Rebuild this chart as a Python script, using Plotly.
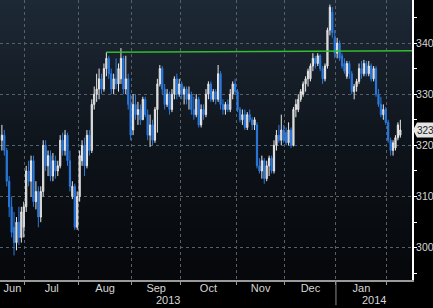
import plotly.graph_objects as go
import pandas as pd

# ---------------- data ----------------
holidays = ["2013-07-04", "2013-09-02", "2013-11-28", "2013-12-25", "2014-01-01", "2014-01-20"]
dates = [d for d in pd.bdate_range("2013-06-17", "2014-02-10") if d.strftime("%Y-%m-%d") not in holidays]

opens = [321, 322, 319, 313, 308, 304, 301, 305, 302, 304,
         308, 315, 313, 317, 309, 311, 306, 311, 320, 316,
         318, 314, 317, 315, 316, 321, 319, 322, 317, 310,
         312, 304, 310, 317, 320, 316, 322, 319, 328, 330,
         331, 333, 331, 335, 337, 334, 331, 333, 332, 333,
         337, 331, 333, 328, 323, 328, 326, 327, 325, 329,
         326, 322, 324, 321, 327, 332, 335, 331, 328, 330,
         327, 330, 333, 330, 332, 330, 331, 329, 330, 327,
         326, 329, 324, 327, 326, 330, 332, 329, 330.5, 329,
         334, 328, 327, 328, 327, 330, 332, 330.5, 327, 325,
         326, 323.5, 326, 325, 324, 324, 316, 315, 317, 313.5,
         316, 317.5, 315, 320, 322, 321, 323, 322.5, 320.5, 323,
         320, 327, 327, 329, 330, 332, 333, 333, 335.5, 337,
         336, 337.5, 335, 333, 335.5, 342.5, 346, 341, 338, 340,
         337.5, 336, 333.5, 336, 334, 330.5, 331.5, 332.5, 335, 334,
         336, 334, 335.5, 333, 335, 330, 328, 326, 327, 324.5,
         321, 319, 319.5, 321.5, 322]
highs = [324, 323, 319.5, 314, 310, 307, 306, 308, 308, 309,
         316, 317, 318, 318, 313, 312, 312, 321, 321, 319,
         319, 318.5, 318, 317, 322, 322.5, 323, 322.5, 319, 313,
         312.5, 311, 319, 321, 321.5, 323, 323, 329, 331.5, 334,
         335, 334, 336, 338.2, 337.5, 335, 334, 337, 336, 339,
         337.5, 337.5, 334, 330, 330, 330, 328.5, 328, 329.5, 329.5,
         327, 326, 325, 327.5, 333, 335.7, 335.5, 332, 331, 330.5,
         331, 333.5, 334, 333, 332.5, 331.5, 331.5, 331.5, 330.5, 329.5,
         330, 329.5, 328, 328, 331, 332.5, 332.5, 331, 331, 335.7,
         334.5, 329, 328.5, 329, 331, 332.5, 333, 331, 327.5, 327,
         327, 326.5, 327, 325.5, 325.5, 324.5, 317.5, 318, 317.5, 317,
         318, 318, 321, 323, 324, 326, 324, 323.5, 324.5, 323.5,
         327.5, 329, 330, 331, 332.5, 333.5, 335, 336, 338, 337.5,
         338, 337.8, 335.5, 336, 343, 347.5, 347, 342.5, 341, 340.5,
         338, 337, 336.5, 336.5, 334.5, 332, 333, 336, 336.5, 336.7,
         336.5, 336.5, 336, 335.5, 335.5, 331, 329.5, 328, 327.5, 325,
         321.5, 321, 322, 324.5, 325]
lows = [319, 318, 312, 306, 302, 298.5, 299.5, 300.5, 301, 302,
        307, 312, 310, 308, 307.5, 304, 305, 310, 315, 314,
        313, 313, 313.5, 314, 315.5, 318, 318, 316, 311, 309.5,
        303.5, 303.5, 309, 316, 314, 315.5, 318, 318.5, 327, 328.5,
        329, 330, 330.5, 333.5, 333, 330, 330, 331, 330.5, 332,
        330, 330, 327, 321, 322, 325, 324, 324, 325, 325.5,
        321, 319.7, 320, 320.5, 322.5, 331.5, 330, 327, 327.5, 326,
        326.5, 329, 329, 329.5, 329, 328, 328, 327, 326, 325,
        325.5, 323.5, 323.5, 325, 325.5, 329, 328.5, 328.5, 328, 328.5,
        327, 326, 326, 326.5, 326.5, 329, 330, 326.5, 324.5, 324,
        323, 323, 324.5, 323, 323, 315.5, 314.5, 313.5, 312.5, 313,
        314, 314.5, 314.5, 319, 320.5, 320, 320.5, 320, 320, 319.5,
        319.8, 325.5, 326.5, 328.5, 329.5, 330.5, 331.5, 332.5, 334.5, 335,
        335.5, 334.5, 332, 332.5, 335, 341.5, 341, 337, 337, 336.5,
        335, 334, 333, 333, 330, 329, 330.5, 332, 333, 333.5,
        333.5, 333.5, 332.5, 332.5, 329.5, 327.5, 325.5, 325, 324, 320.5,
        318, 318, 319, 321, 321.5]
closes = [322, 319, 313, 308, 303, 301, 305, 302, 307, 308,
          315, 313, 317, 309, 311, 306, 311, 320, 316, 318,
          314, 317, 315, 316, 321, 319, 322, 317, 312, 312,
          304, 310, 318, 320, 316, 322, 319, 328, 330, 331,
          333, 331, 335, 337, 334, 331, 333, 332, 335, 337,
          331, 333, 328, 322, 328, 326, 327, 325, 329, 326,
          322, 324, 321, 327, 332, 335, 331, 328, 330, 327,
          330, 333, 330, 332, 330, 331, 329, 330, 327, 326,
          329, 324, 327, 326, 330, 332, 329, 330.5, 329, 334,
          328, 327, 328, 327, 330, 332, 330.5, 327, 325, 326,
          323.5, 326, 325, 324, 325, 316, 315, 317, 313.5, 316,
          317.5, 315, 320, 322, 321, 323, 321, 320.5, 323, 320,
          327, 328, 329, 330.5, 332, 333, 334.5, 335.5, 337, 336,
          337.5, 335, 333, 335.5, 342.5, 347, 342, 338, 340, 337,
          335.5, 334.5, 336, 334, 330.5, 331.5, 332.5, 335, 334, 336,
          334, 335.5, 333, 335, 330, 328, 326, 327, 324.5, 321,
          319, 320.5, 321.5, 324, 323]

month_labels = ["Jun", "Jul", "Aug", "Sep", "Oct", "Nov", "Dec", "Jan"]
year_labels = ["2013", "2014"]
y_ticks = [300, 310, 320, 330, 340]
trend_start_date = "2013-08-16"
trend_values = [338.2, 338.5]
last_value = closes[-1]

# ---------------- positions ----------------
xi = list(range(len(dates)))
x_lo, x_hi = -0.78, 168.8
y_lo, y_hi = 293.7, 348.4

bounds = [i - 0.5 for i in range(1, len(dates)) if dates[i].month != dates[i - 1].month]
edges = [x_lo] + bounds
month_pos = [(edges[k] + edges[k + 1]) / 2 for k in range(len(month_labels))]
year_bound = [i - 0.5 for i in range(1, len(dates)) if dates[i].year != dates[i - 1].year][0]
year_pos = [(x_lo + year_bound) / 2, (year_bound + x_hi) / 2]
trend_start = [i for i, d in enumerate(dates) if d.strftime("%Y-%m-%d") == trend_start_date][0]

FONT = "Liberation Sans"
TXT = "#d6d6d6"

fig = go.Figure()

fig.add_trace(go.Candlestick(
    x=xi, open=opens, high=highs, low=lows, close=closes,
    increasing=dict(line=dict(color="#e8e8e8", width=1), fillcolor="#c4c4c4"),
    decreasing=dict(line=dict(color="#2a7ae0", width=1), fillcolor="#2a7ae0"),
    whiskerwidth=0, showlegend=False, hoverinfo="skip"))

fig.add_trace(go.Scatter(
    x=[trend_start, x_hi], y=trend_values, mode="lines",
    line=dict(color="#2fbf2f", width=1.6), showlegend=False, hoverinfo="skip"))

# background gradient bands (style only)
shapes = []
nb = 56
top = (30, 41, 54)
mid = (15, 21, 28)
bot = (6, 8, 11)
for k in range(nb):
    t = k / (nb - 1)
    if t < 0.5:
        u = t / 0.5
        c = tuple(int(top[j] + (mid[j] - top[j]) * u) for j in range(3))
    else:
        u = (t - 0.5) / 0.5
        c = tuple(int(mid[j] + (bot[j] - mid[j]) * u) for j in range(3))
    shapes.append(dict(type="rect", xref="paper", yref="paper", x0=0, x1=1,
                       y0=1 - (k + 1) / nb - 0.002, y1=1 - k / nb,
                       fillcolor="rgb(%d,%d,%d)" % c, line=dict(width=0), layer="below"))

# year divider below axis
shapes.append(dict(type="line", xref="x", yref="paper", x0=year_bound, x1=year_bound,
                   y0=0, y1=-0.09, line=dict(color="#8a8a8a", width=1)))

# last value marker
pw = 412.0
yu = 1.45
shapes.append(dict(type="path", xref="paper", yref="y",
                   path="M %f,%f L %f,%f L %f,%f L %f,%f L %f,%f Z" % (
                       1 + 1.0 / pw, last_value,
                       1 + 5 / pw, last_value + yu,
                       1 + 21 / pw, last_value + yu,
                       1 + 21 / pw, last_value - yu,
                       1 + 5 / pw, last_value - yu),
                   fillcolor="#e4e4e4", line=dict(width=0), layer="above"))

annotations = []
for lab, p in zip(year_labels, year_pos):
    annotations.append(dict(text=lab, x=p, xref="x", y=0, yref="paper", yanchor="top",
                            yshift=-12, showarrow=False,
                            font=dict(size=11, color=TXT, family=FONT)))
annotations.append(dict(text="%d" % round(last_value), x=1 + 4 / pw, xref="paper", y=last_value,
                        yref="y", showarrow=False, xanchor="left", borderpad=0,
                        font=dict(size=10, color="#222222", family=FONT)))

fig.update_layout(
    width=433, height=308,
    margin=dict(l=0, r=21, t=0, b=28, autoexpand=False),
    paper_bgcolor="#000000", plot_bgcolor="rgba(0,0,0,0)",
    shapes=shapes, annotations=annotations,
    font=dict(family=FONT, size=11, color=TXT),
    showlegend=False,
    xaxis=dict(range=[x_lo, x_hi], rangeslider=dict(visible=False),
               tickmode="array", tickvals=month_pos, ticktext=month_labels,
               ticks="", showgrid=False, zeroline=False,
               showline=True, linecolor="#9a9a9a", linewidth=2,
               tickfont=dict(size=11, color=TXT), ticklabelstandoff=-3,
               minor=dict(tickmode="array", tickvals=bounds, ticks="outside", ticklen=3,
                          tickcolor="#9a9a9a", showgrid=True, gridcolor="#56606b",
                          griddash="dot", gridwidth=1),
               automargin=False, fixedrange=True),
    yaxis=dict(range=[y_lo, y_hi], side="right", tickmode="array", tickvals=y_ticks,
               ticks="outside", ticklen=3, tickcolor="#ffffff", tickwidth=1,
               showline=True, linecolor="#ffffff", linewidth=2,
               showgrid=True, gridcolor="#56606b", griddash="dot", gridwidth=1,
               zeroline=False, tickfont=dict(size=10.5, color=TXT), ticklabelstandoff=-3,
               minor=dict(dtick=5, ticks="outside", ticklen=3, tickcolor="#ffffff", showgrid=False),
               automargin=False, fixedrange=True),
)

fig.write_html("out.html")
